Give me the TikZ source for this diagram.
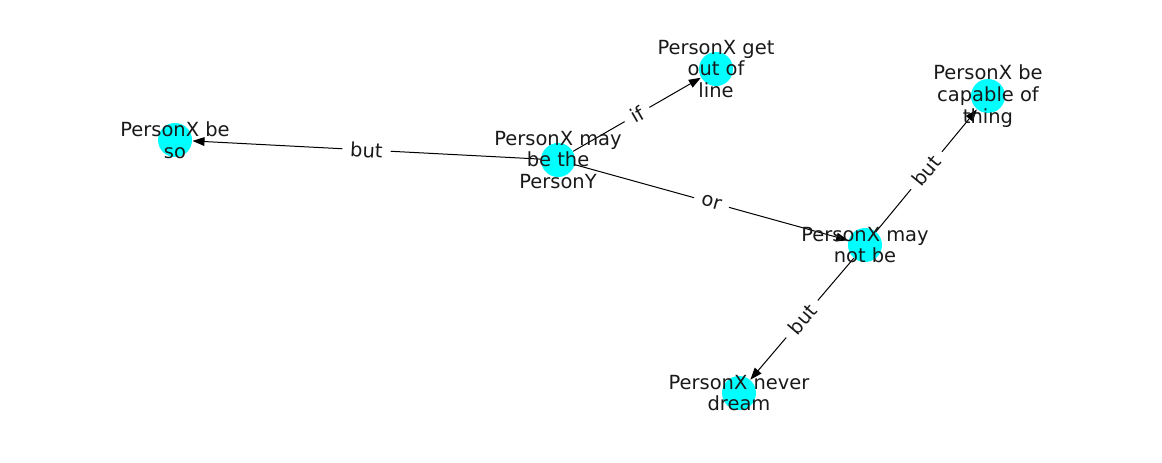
\documentclass[tikz,border=0pt]{standalone}
\usepackage{fontspec}
\setmainfont{DejaVu Sans}
\usetikzlibrary{arrows.meta}

\definecolor{nodecyan}{RGB}{0,255,255}

\tikzset{
    vert/.style={circle, fill=nodecyan, inner sep=0pt, minimum size=25.5pt},
    vtext/.style={align=center, inner sep=0pt, text=black!90,
        font=\fontsize{14.6pt}{16.3pt}\selectfont},
    elabel/.style={midway, sloped, fill=white, inner xsep=6pt, inner ysep=3pt, text=black!90,
        font=\fontsize{14.6pt}{16.3pt}\selectfont},
}

\begin{document}
\begin{tikzpicture}[x=0.75pt, y=-0.75pt, >={Triangle[length=9pt,width=6.5pt]}, line width=0.75pt]
    \useasboundingbox (0,0) rectangle (1162,462);

    % Nodi
    \node[vert] (so)      at (175,140) {};
    \node[vert] (personY) at (558,160) {};
    \node[vert] (line)    at (716,69)  {};
    \node[vert] (capable) at (988,96)  {};
    \node[vert] (notbe)   at (865,245) {};
    \node[vert] (dream)   at (739,393) {};

    % Archi
    \draw[->] (personY) -- (so) node[elabel] {but};
    \draw[->] (personY) -- (line) node[elabel] {if};
    \draw[->] (personY) -- (notbe) node[elabel] {or};
    \draw[->] (notbe) -- (capable) node[elabel] {but};
    \draw[->] (notbe) -- (dream) node[elabel] {but};

    % Etichette dei nodi
    \node[vtext] (so-t)      at (so)      {PersonX be\\so};
    \node[vtext] (personY-t) at (personY) {PersonX may\\be the\\PersonY};
    \node[vtext] (line-t)    at (line)    {PersonX get\\out of\\line};
    \node[vtext] (capable-t) at (capable) {PersonX be\\capable of\\thing};
    \node[vtext] (notbe-t)   at (notbe)   {PersonX may\\not be};
    \node[vtext] (dream-t)   at (dream)   {PersonX never\\dream};

\end{tikzpicture}
\end{document}
